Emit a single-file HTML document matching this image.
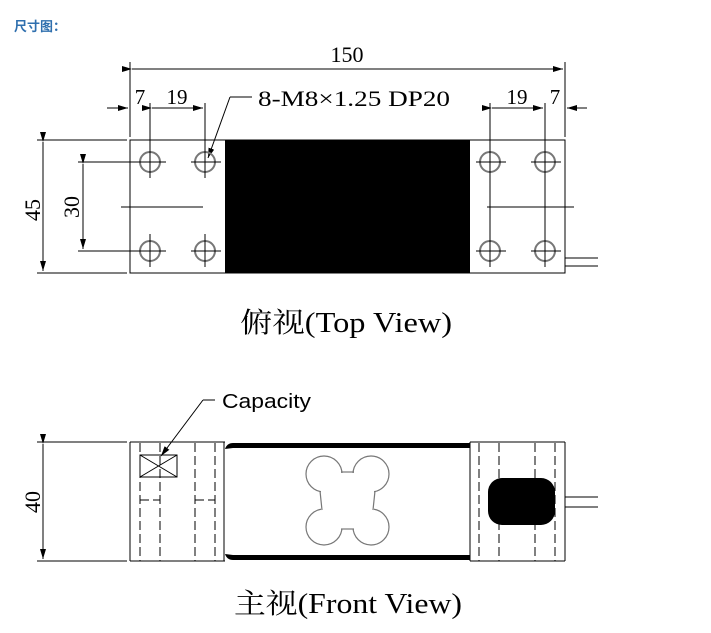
<!DOCTYPE html>
<html><head><meta charset="utf-8"><style>
html,body{margin:0;padding:0;background:#fff;}
svg{display:block;}
</style></head><body>
<svg width="711" height="633" viewBox="0 0 711 633" xmlns="http://www.w3.org/2000/svg" font-family="Liberation Serif, Noto Serif CJK SC, serif">
<defs>
<marker id="a" markerWidth="10" markerHeight="6" refX="10" refY="3" orient="auto" markerUnits="userSpaceOnUse"><path d="M0,0 L10,3 L0,6 Z" fill="#000"/></marker>
</defs>
<text x="14" y="31" font-family="Liberation Sans, Noto Sans CJK SC, sans-serif" font-weight="bold" font-size="13" fill="#2f6fae">尺寸图：</text>

<g stroke="#000" stroke-width="1" fill="none">
<line x1="130" y1="62" x2="130" y2="137"/><line x1="565" y1="62" x2="565" y2="137"/>
<line x1="132" y1="69" x2="563" y2="69" marker-start="url(#a)" marker-end="url(#a)"/>
<line x1="150" y1="103" x2="150" y2="178"/><line x1="205" y1="103" x2="205" y2="178"/>
<line x1="107" y1="108" x2="128" y2="108" marker-end="url(#a)"/>
<line x1="152" y1="108" x2="203" y2="108" marker-start="url(#a)" marker-end="url(#a)"/>
<line x1="490" y1="103" x2="490" y2="178"/><line x1="545" y1="103" x2="545" y2="178"/>
<line x1="492" y1="108" x2="543" y2="108" marker-start="url(#a)" marker-end="url(#a)"/>
<line x1="587" y1="108" x2="567" y2="108" marker-end="url(#a)"/>
<line x1="252" y1="97" x2="230" y2="97"/><line x1="230" y1="97" x2="208" y2="158" marker-end="url(#a)"/>
<rect x="130" y="140" width="435" height="133"/>
<line x1="37" y1="140" x2="127" y2="140"/><line x1="37" y1="273" x2="127" y2="273"/>
<line x1="43" y1="142" x2="43" y2="271" marker-start="url(#a)" marker-end="url(#a)"/>
<line x1="78" y1="162" x2="140" y2="162"/><line x1="78" y1="251" x2="140" y2="251"/>
<line x1="83" y1="164" x2="83" y2="249" marker-start="url(#a)" marker-end="url(#a)"/>
<line x1="121" y1="207" x2="203" y2="207"/><line x1="487" y1="207" x2="574" y2="207"/>
<line x1="565" y1="258" x2="598" y2="258"/><line x1="565" y1="266" x2="598" y2="266"/>
</g>
<rect x="225" y="140" width="245" height="133" fill="#000"/>
<g stroke="#000" fill="none">
<g stroke="#777" stroke-width="2">
<circle cx="150" cy="162" r="10"/><circle cx="205" cy="162" r="10"/><circle cx="490" cy="162" r="10"/><circle cx="545" cy="162" r="10"/>
<circle cx="150" cy="251" r="10"/><circle cx="205" cy="251" r="10"/><circle cx="490" cy="251" r="10"/><circle cx="545" cy="251" r="10"/>
</g>
<g stroke-width="1">
<line x1="136" y1="162" x2="166" y2="162"/><line x1="191" y1="162" x2="221" y2="162"/><line x1="476" y1="162" x2="506" y2="162"/><line x1="531" y1="162" x2="561" y2="162"/>
<line x1="136" y1="251" x2="166" y2="251"/><line x1="191" y1="251" x2="221" y2="251"/><line x1="476" y1="251" x2="506" y2="251"/><line x1="531" y1="251" x2="561" y2="251"/>
<line x1="150" y1="234" x2="150" y2="267"/><line x1="205" y1="234" x2="205" y2="267"/><line x1="490" y1="150" x2="490" y2="267"/><line x1="545" y1="150" x2="545" y2="267"/>
<line x1="150" y1="148" x2="150" y2="178"/><line x1="205" y1="148" x2="205" y2="178"/>
</g>
</g>
<text x="347" y="62" font-size="22" text-anchor="middle">150</text>
<text x="140" y="104" font-size="21" text-anchor="middle">7</text>
<text x="177" y="104" font-size="21" text-anchor="middle">19</text>
<text x="517" y="104" font-size="21" text-anchor="middle">19</text>
<text x="555" y="104" font-size="21" text-anchor="middle">7</text>
<text x="258" y="106" font-size="22" textLength="192" lengthAdjust="spacingAndGlyphs">8-M8×1.25 DP20</text>
<text transform="translate(40,210) rotate(-90)" font-size="22" text-anchor="middle">45</text>
<text transform="translate(79,207) rotate(-90)" font-size="22" text-anchor="middle">30</text>
<text x="240" y="332" font-size="28" textLength="212" lengthAdjust="spacingAndGlyphs">俯视(Top View)</text>

<g stroke="#000" stroke-width="1" fill="none">
<line x1="37" y1="442" x2="127" y2="442"/><line x1="37" y1="561" x2="127" y2="561"/>
<line x1="43" y1="444" x2="43" y2="559" marker-start="url(#a)" marker-end="url(#a)"/>
<line x1="130" y1="442" x2="225" y2="442"/><line x1="130" y1="561" x2="225" y2="561"/>
<line x1="130" y1="442" x2="130" y2="561"/>
<line x1="470" y1="442" x2="565" y2="442"/><line x1="470" y1="561" x2="565" y2="561"/>
<line x1="565" y1="442" x2="565" y2="561"/><line x1="470" y1="442" x2="470" y2="561"/>
<line x1="565" y1="497" x2="598" y2="497"/><line x1="565" y1="507" x2="598" y2="507"/>
<g stroke-dasharray="9,4">
<line x1="140" y1="443" x2="140" y2="561"/><line x1="160" y1="443" x2="160" y2="561"/>
<line x1="195" y1="443" x2="195" y2="561"/><line x1="215" y1="443" x2="215" y2="561"/>
<line x1="479" y1="443" x2="479" y2="561"/><line x1="499" y1="443" x2="499" y2="561"/>
<line x1="535" y1="443" x2="535" y2="561"/><line x1="555" y1="443" x2="555" y2="561"/>
<line x1="140" y1="500" x2="160" y2="500"/><line x1="195" y1="500" x2="215" y2="500"/>
</g>
<line x1="224" y1="442" x2="224" y2="561"/>
<rect x="140" y="455" width="37" height="22"/>
<line x1="140" y1="455" x2="177" y2="477"/><line x1="140" y1="477" x2="177" y2="455"/>
<line x1="215" y1="400" x2="203" y2="400"/><line x1="203" y1="400" x2="161" y2="456" marker-end="url(#a)"/>
</g>
<path d="M225,449 Q227,443 233,443 L470,443 L470,448 L233,448 Z" fill="#000"/>
<path d="M225,554 Q227,560 233,560 L470,560 L470,555 L233,555 Z" fill="#000"/>
<rect x="488" y="478" width="67" height="47" rx="14" fill="#000"/>
<g stroke="#777" stroke-width="1.2" fill="#fff">
<circle cx="324" cy="474" r="18"/><circle cx="371" cy="474" r="18"/>
<circle cx="324" cy="527" r="18"/><circle cx="371" cy="527" r="18"/>
</g>
<rect x="321" y="473" width="53" height="56" fill="#fff"/>
<g stroke="#777" stroke-width="1.2">
<line x1="341" y1="472" x2="354" y2="472"/><line x1="341" y1="529" x2="354" y2="529"/>
<line x1="320" y1="491" x2="322" y2="510"/><line x1="375" y1="491" x2="373" y2="510"/>
</g>
<text x="222" y="408" font-family="Liberation Sans, sans-serif" font-size="20" textLength="89" lengthAdjust="spacingAndGlyphs">Capacity</text>
<text transform="translate(40,502) rotate(-90)" font-size="22" text-anchor="middle">40</text>
<text x="234" y="613" font-size="28" textLength="228" lengthAdjust="spacingAndGlyphs">主视(Front View)</text>
</svg>
</body></html>
